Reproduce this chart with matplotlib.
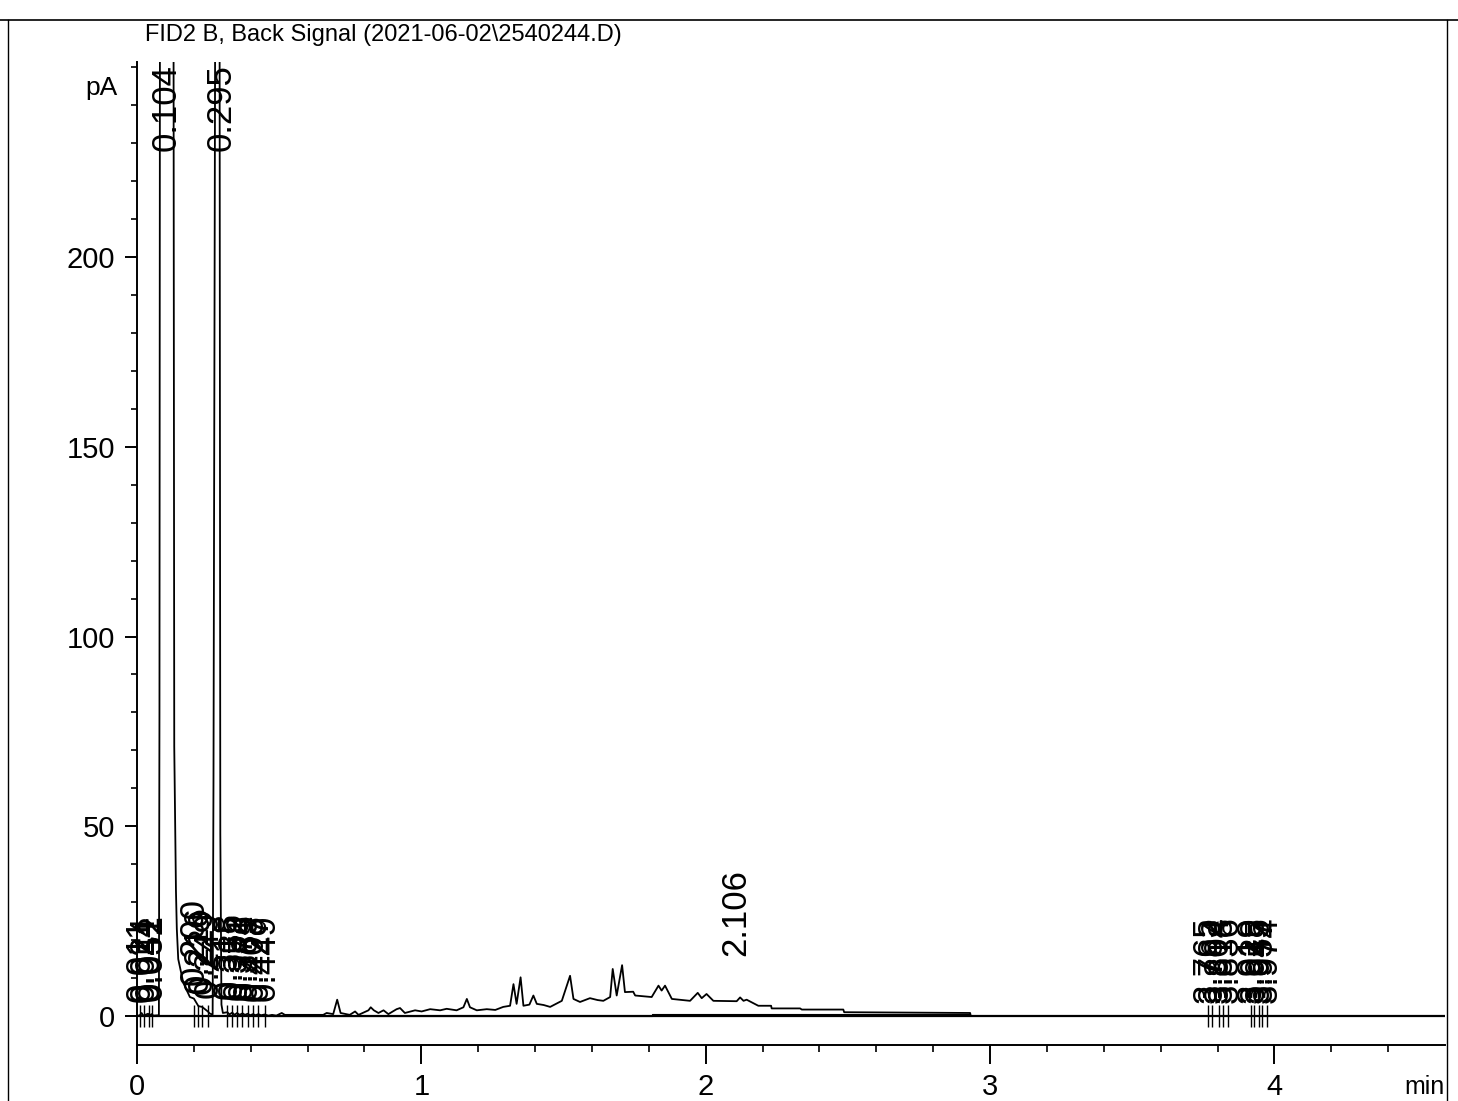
import matplotlib
matplotlib.use("Agg")
import matplotlib.pyplot as plt
from matplotlib.lines import Line2D
import numpy as np

# ---------------- data ----------------
title = "FID2 B, Back Signal (2021-06-02\\2540244.D)"
y_label = "pA"
x_label = "min"

# signal trace (time in min, signal in pA) - values above the axis are clipped
trace_t = [0.000, 0.010, 0.016, 0.022, 0.039, 0.045, 0.051, 0.058, 0.077,
           0.079, 0.081, 0.128, 0.131, 0.137, 0.140, 0.145, 0.163, 0.186,
           0.200, 0.216, 0.229, 0.249, 0.257, 0.266,
           0.269, 0.276, 0.290, 0.293, 0.297, 0.302,
           0.318, 0.325, 0.335, 0.343, 0.352, 0.361, 0.371, 0.380, 0.389,
           0.398, 0.408, 0.417, 0.427, 0.436, 0.449, 0.462, 0.475, 0.490,
           0.509, 0.520, 0.655, 0.667, 0.690, 0.704, 0.716, 0.748, 0.767,
           0.779, 0.814, 0.822, 0.833, 0.849, 0.867, 0.884, 0.913, 0.925,
           0.942, 0.978, 1.001, 1.031, 1.066, 1.089, 1.124, 1.148, 1.160,
           1.171, 1.195, 1.230, 1.260, 1.288, 1.312, 1.324, 1.335, 1.349,
           1.359, 1.380, 1.394, 1.406, 1.430, 1.453, 1.494, 1.523, 1.535,
           1.558, 1.593, 1.620, 1.640, 1.664, 1.673, 1.687, 1.706, 1.716,
           1.745, 1.752, 1.810, 1.834, 1.845, 1.857, 1.881, 1.945, 1.972,
           1.986, 2.003, 2.027, 2.109, 2.121, 2.133, 2.144, 2.185, 2.230,
           2.232, 2.332, 2.338, 2.484, 2.487, 2.930, 2.932, 4.600]
trace_pA = [0.0, 0.2, 0.8, 0.1, 0.6, 0.1, 0.5, 0.1, 0.2,
            80.0, 300.0, 300.0, 71.0, 33.0, 23.0, 15.0, 8.7, 5.0,
            4.6, 2.6, 2.4, 1.2, 0.6, 0.4,
            62.0, 300.0, 300.0, 48.0, 3.0, 0.8,
            1.0, 0.4, 0.9, 0.3, 0.8, 0.3, 0.7, 0.3, 0.6,
            0.2, 0.5, 0.2, 0.5, 0.2, 0.4, 0.1, 0.3, 0.1,
            0.8, 0.3, 0.3, 0.8, 0.5, 4.3, 0.8, 0.3, 1.2,
            0.3, 1.5, 2.3, 1.5, 0.8, 1.5, 0.5, 1.8, 2.1,
            0.8, 1.5, 1.2, 1.8, 1.5, 1.9, 1.5, 2.3, 4.5,
            2.3, 1.5, 1.8, 1.6, 2.4, 2.7, 8.4, 3.2, 10.2,
            2.7, 3.0, 5.4, 3.2, 2.9, 2.4, 4.0, 10.6, 4.5,
            3.7, 4.7, 4.2, 4.0, 5.0, 12.4, 5.4, 13.4, 6.3,
            6.4, 5.4, 5.0, 8.0, 6.7, 8.0, 4.5, 4.0, 6.1,
            4.7, 5.8, 4.0, 3.9, 4.9, 4.0, 4.3, 2.7, 2.7,
            2.0, 2.0, 1.7, 1.7, 1.0, 0.8, 0.0, 0.0]

# integration baseline drawn under the hump
base_t = [0.48, 1.81, 1.81, 2.93]
base_pA = [0.0, 0.0, 0.4, 0.4]

# retention-time labels
peak_rt = ["0.011", "0.024", "0.041", "0.052",
           "0.104",
           "0.200", "0.216", "0.229", "0.249",
           "0.295",
           "0.318", "0.335", "0.352", "0.371", "0.389", "0.408", "0.427", "0.449",
           "2.106",
           "3.765", "3.782", "3.804", "3.818", "3.836",
           "3.919", "3.928", "3.945", "3.957", "3.974"]
offscale_rt = ["0.104", "0.295"]
major_rt = ["2.106"]

x_ticks = [0, 1, 2, 3, 4]
y_ticks = [0, 50, 100, 150, 200]

# ---------------- figure ----------------
W, H = 1458, 1101
fig = plt.figure(figsize=(W / 100, H / 100), dpi=100)
fig.patch.set_facecolor("white")

narrow = ["Liberation Sans", "DejaVu Sans"]
regular = ["Liberation Sans", "DejaVu Sans"]

ax_l, ax_r, ax_t, ax_b = 137, 1445, 62, 1045
ax = fig.add_axes([ax_l / W, 1 - ax_b / H, (ax_r - ax_l) / W, (ax_b - ax_t) / H])
ax.set_xlim(0, 4.60)
ax.set_ylim(-7.64, 251.4)

ax.plot(trace_t, trace_pA, color="black", lw=1.3, clip_on=True)
ax.plot(base_t, base_pA, color="black", lw=0.8)
ax.axhline(0, color="black", lw=1.6)

# label markers and text
tr_t = np.array(trace_t)
tr_y = np.array(trace_pA)
for lab in peak_rt:
    t = float(lab)
    if lab in offscale_rt:
        ax.text(t, 250.8, lab, rotation=90, ha="center", va="top",
                fontsize=25, family=regular, color="black")
        continue
    y0 = float(np.interp(t, tr_t, tr_y))
    off = 12.0 if lab in major_rt else 3.5
    ax.text(t, y0 + off, lab, rotation=90, ha="center", va="bottom",
            fontsize=25, family=regular, color="black")
    if lab not in major_rt:
        ax.vlines(t, -3.0, 3.0, color="black", lw=1.0)

# spines and ticks
for s in ("top", "right"):
    ax.spines[s].set_visible(False)
for s in ("left", "bottom"):
    ax.spines[s].set_linewidth(1.4)

ax.set_xticks(x_ticks)
ax.set_xticklabels([str(v) for v in x_ticks])
ax.set_xticks(np.arange(0, 4.5, 0.2), minor=True)
ax.set_yticks(y_ticks)
ax.set_yticklabels([str(v) for v in y_ticks])
ax.set_yticks(np.arange(0, 251, 10), minor=True)

ax.tick_params(axis="x", which="major", direction="out", length=14, width=1.4, pad=6)
ax.tick_params(axis="x", which="minor", direction="out", length=5, width=1.2)
ax.tick_params(axis="y", which="major", direction="out", length=9, width=1.4, pad=7)
ax.tick_params(axis="y", which="minor", direction="out", length=4, width=1.2)
for lbl in ax.get_xticklabels() + ax.get_yticklabels():
    lbl.set_family(narrow)
    lbl.set_fontsize(21)

# texts outside the axes
fig.text(145 / W, 1 - 35 / H, title, ha="left", va="center",
         fontsize=17, family=narrow)
fig.text(101 / W, 1 - 88 / H, y_label, ha="center", va="center",
         fontsize=19, family=narrow)
fig.text(1424 / W, 1 - 1087 / H, x_label, ha="center", va="center",
         fontsize=18, family=narrow)

# page frame
fig.add_artist(Line2D([0, 1], [1 - 20 / H, 1 - 20 / H], transform=fig.transFigure,
                      color="black", lw=1.2))
fig.add_artist(Line2D([8 / W, 8 / W], [0, 1 - 20 / H], transform=fig.transFigure,
                      color="black", lw=1.0))
fig.add_artist(Line2D([1447 / W, 1447 / W], [0, 1 - 20 / H], transform=fig.transFigure,
                      color="black", lw=1.0))

fig.savefig("out.png", dpi=100, facecolor="white")
